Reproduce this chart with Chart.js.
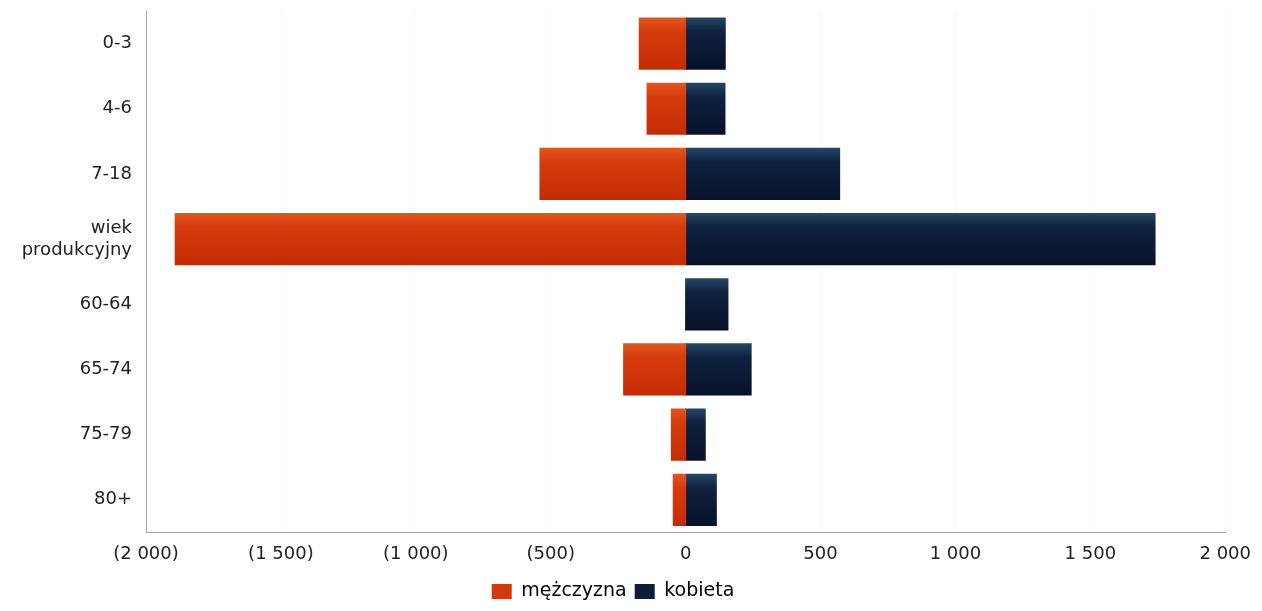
<!DOCTYPE html>
<html>
<head>
<meta charset="utf-8">
<script src="https://cdn.jsdelivr.net/npm/chart.js@4/dist/chart.umd.min.js"></script>
<style>
html,body{margin:0;padding:0;background:#fff;}
#wrap{width:1262px;height:611px;position:relative;}
</style>
</head>
<body>
<div id="wrap"><canvas id="c" width="1262" height="611"></canvas></div>
<script>
const categories = ["0-3", "4-6", "7-18", ["wiek", "produkcyjny"], "60-64", "65-74", "75-79", "80+"];
const seriesNames = ["mężczyzna", "kobieta"];
const maleValues = [-170, -141, -538, -1890, 0, -228, -51, -44];
const femaleValues = [145, 144, 569, 1738, 155, 241, 71, 112];
const xTicks = [-2000, -1500, -1000, -500, 0, 500, 1000, 1500, 2000];

const FONT = "'DejaVu Sans', sans-serif";

function fmt(v) {
  const a = Math.abs(v);
  let s = a >= 1000 ? Math.floor(a / 1000) + " " + String(a % 1000).padStart(3, "0") : String(a);
  return v < 0 ? "(" + s + ")" : s;
}

function grad(ctx, stops, solid) {
  const chart = ctx.chart;
  if (!chart.chartArea || !chart.scales.y) return solid;
  const y = chart.scales.y.getPixelForValue(ctx.dataIndex);
  const h = 25;
  const g = chart.ctx.createLinearGradient(0, y - h, 0, y + h);
  g.addColorStop(0, stops[0]);
  g.addColorStop(0.25, stops[1]);
  g.addColorStop(1, stops[2]);
  return g;
}

const inflate = (ctx) => (ctx.raw === 0 ? 0 : 1);

new Chart(document.getElementById("c"), {
  type: "bar",
  data: {
    labels: categories,
    datasets: [
      {
        label: seriesNames[0],
        data: maleValues,
        backgroundColor: (ctx) => grad(ctx, ["#e0541e", "#d63c0c", "#c42c04"], "#d13a0b"),
        borderWidth: 0,
        inflateAmount: inflate,
        barPercentage: 0.77,
        categoryPercentage: 1.0
      },
      {
        label: seriesNames[1],
        data: femaleValues,
        backgroundColor: (ctx) => grad(ctx, ["#244563", "#0f2240", "#07112a"], "#0d1d38"),
        borderWidth: 0,
        inflateAmount: inflate,
        barPercentage: 0.77,
        categoryPercentage: 1.0
      }
    ]
  },
  options: {
    indexAxis: "y",
    responsive: false,
    animation: false,
    devicePixelRatio: 1,
    layout: { padding: { left: 0, right: 36, top: 11, bottom: 0 } },
    plugins: {
      tooltip: { enabled: false },
      legend: {
        position: "bottom",
        labels: {
          font: { family: FONT, size: 19 },
          color: "#222",
          boxWidth: 20,
          boxHeight: 15,
          padding: 8,
          generateLabels: (chart) => chart.data.datasets.map((d, i) => ({
            text: d.label,
            fillStyle: i === 0 ? "#d13a0b" : "#0d1d38",
            strokeStyle: "rgba(0,0,0,0)",
            lineWidth: 0,
            datasetIndex: i
          }))
        }
      }
    },
    scales: {
      x: {
        stacked: true,
        min: -2000,
        max: 2000,
        afterBuildTicks: (scale) => { scale.ticks = xTicks.map(v => ({ value: v })); },
        afterFit: (scale) => { scale.height -= 2; },
        ticks: {
          font: { family: FONT, size: 18 },
          color: "#222",
          padding: 11,
          maxRotation: 0,
          callback: (v) => fmt(v)
        },
        grid: { color: "rgba(0,0,0,0.025)", drawTicks: false },
        border: { color: "#9aa7bd", width: 1 }
      },
      y: {
        stacked: true,
        afterFit: (scale) => { scale.width = 146; scale.paddingTop = 0; scale.paddingBottom = 0; },
        ticks: {
          font: { family: FONT, size: 18 },
          color: "#222",
          padding: 14
        },
        grid: { display: false, drawTicks: false },
        border: { color: "#9aa7bd", width: 1 }
      }
    }
  }
});
</script>
</body>
</html>
